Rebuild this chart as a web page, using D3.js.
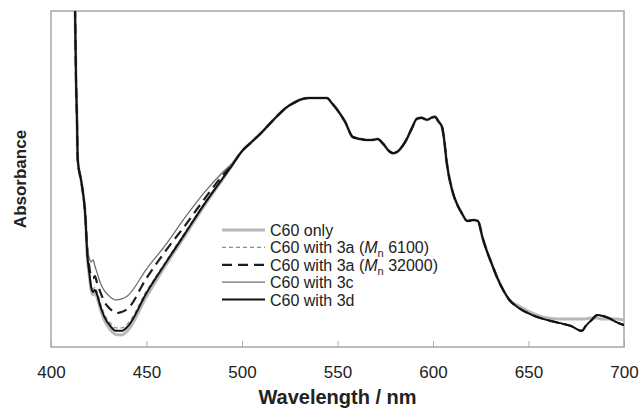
<!DOCTYPE html>
<html>
<head>
<meta charset="utf-8">
<script src="https://cdn.jsdelivr.net/npm/d3@7"></script>
<style>
  body { margin: 0; background: #fff; }
  svg text { font-family: Arial, "Liberation Sans", sans-serif; fill: #222; }
</style>
</head>
<body>
<svg id="chart"></svg>
<script>
// Chart size and plot margins
const width = 643;
const height = 410;
const margin = { top: 11, right: 19, bottom: 63, left: 51 };

// Steep rise below 418 nm, common to every spectrum
const leadWl = [412, 412.6, 413.1, 413.6, 414, 416, 418];
const leadAbs = [1.152, 1.000, 0.795, 0.676, 0.557, 0.488, 0.387];

// The 420-495 nm valley, where the spectra separate
const dipWl = [419, 420, 421, 422, 423, 424, 426, 428, 431, 434, 437, 440, 450, 460, 470, 480, 490, 495];
const dipC60 = [0.268, 0.215, 0.170, 0.155, 0.161, 0.150, 0.110, 0.079, 0.052, 0.037, 0.036, 0.048, 0.150, 0.243, 0.330, 0.418, 0.500, 0.542];
const dip3a6100 = [0.279, 0.230, 0.186, 0.172, 0.178, 0.167, 0.128, 0.098, 0.072, 0.057, 0.057, 0.069, 0.167, 0.254, 0.340, 0.426, 0.505, 0.543];
const dip3a32000 = [0.289, 0.241, 0.211, 0.205, 0.211, 0.193, 0.161, 0.134, 0.113, 0.101, 0.104, 0.113, 0.205, 0.286, 0.360, 0.438, 0.512, 0.545];
const dip3c = [0.304, 0.265, 0.253, 0.259, 0.241, 0.223, 0.188, 0.167, 0.149, 0.140, 0.143, 0.152, 0.232, 0.304, 0.384, 0.458, 0.521, 0.548];
const dip3d = [0.274, 0.223, 0.179, 0.164, 0.170, 0.158, 0.119, 0.089, 0.063, 0.048, 0.048, 0.060, 0.161, 0.250, 0.336, 0.423, 0.503, 0.542];

// Main absorption band 500-640 nm (spectra overlap here)
const bandWl = [500, 505, 510, 513, 518, 523.5, 527, 530, 535, 540, 544.5, 547, 550, 554, 558, 562, 565, 568, 571, 574, 577, 579, 581, 584, 586, 589, 591.5, 594, 597, 599, 601, 603, 604.7, 606, 607, 610, 613, 615, 618, 621, 623.5, 626, 628, 631, 633.5, 637, 640];
const bandAbs = [0.583, 0.610, 0.637, 0.655, 0.685, 0.714, 0.726, 0.735, 0.741, 0.741, 0.741, 0.726, 0.705, 0.670, 0.625, 0.619, 0.616, 0.616, 0.619, 0.604, 0.583, 0.577, 0.580, 0.598, 0.616, 0.652, 0.679, 0.682, 0.676, 0.682, 0.685, 0.670, 0.655, 0.610, 0.557, 0.467, 0.420, 0.399, 0.375, 0.378, 0.375, 0.324, 0.289, 0.244, 0.208, 0.167, 0.140];

// Long-wavelength tail
const tailWl = [645, 652, 660, 666.5, 672, 678, 680, 683, 686, 689, 692, 696, 700];
const tailMix = [0.116, 0.095, 0.080, 0.071, 0.063, 0.048, 0.063, 0.080, 0.095, 0.092, 0.086, 0.074, 0.065];
const tailC60 = [0.122, 0.101, 0.086, 0.083, 0.083, 0.083, 0.084, 0.086, 0.086, 0.083, 0.083, 0.083, 0.080];

// X tick labels
const xTicks = [400, 450, 500, 550, 600, 650, 700];

// Series names (legend order)
const seriesNames = ["C60 only", "C60 with 3a (Mn 6100)", "C60 with 3a (Mn 32000)", "C60 with 3c", "C60 with 3d"];
const seriesMn = [null, "6100", "32000", null, null];
const seriesColor = ["#b8b8b8", "#8c8c8c", "#1e1e1e", "#707070", "#111111"];
const seriesWidth = [3, 1.2, 2.2, 1.3, 2];
const seriesDash = [null, "4,3", "10,6", null, null];

function buildSeries(dip, tail) {
  const pts = [];
  leadWl.forEach((w, i) => pts.push({ wl: w, a: leadAbs[i] }));
  dipWl.forEach((w, i) => pts.push({ wl: w, a: dip[i] }));
  bandWl.forEach((w, i) => pts.push({ wl: w, a: bandAbs[i] }));
  tailWl.forEach((w, i) => pts.push({ wl: w, a: tail[i] }));
  return pts;
}

const seriesData = [
  buildSeries(dipC60, tailC60),
  buildSeries(dip3a6100, tailMix),
  buildSeries(dip3a32000, tailMix),
  buildSeries(dip3c, tailMix),
  buildSeries(dip3d, tailMix)
];

const plotW = width - margin.left - margin.right;
const plotH = height - margin.top - margin.bottom;

const svg = d3.select("#chart")
  .attr("width", width)
  .attr("height", height);

const g = svg.append("g")
  .attr("transform", `translate(${margin.left},${margin.top})`);

// Scales
const x = d3.scaleLinear().domain([400, 700]).range([0, plotW]);
const y = d3.scaleLinear().domain([0, 1]).range([plotH, 0]);

// Clip so the steep start is cut at the frame
g.append("clipPath").attr("id", "plot-clip")
  .append("rect").attr("width", plotW).attr("height", plotH);

// X axis, ticks pointing inward
const xAxis = d3.axisBottom(x).tickValues(xTicks).tickSize(-6).tickPadding(19);
const axisG = g.append("g")
  .attr("transform", `translate(0,${plotH})`)
  .call(xAxis);
axisG.select(".domain").remove();
axisG.selectAll(".tick line").attr("stroke", "#aaa");
axisG.selectAll(".tick text")
  .style("font-size", "17px")
  .attr("fill", "#222");

// Frame
g.append("rect")
  .attr("width", plotW)
  .attr("height", plotH)
  .attr("fill", "none")
  .attr("stroke", "#a6a6a6")
  .attr("stroke-width", 1.5);

// Curves
const line = d3.line()
  .x(d => x(d.wl))
  .y(d => y(d.a))
  .curve(d3.curveMonotoneX);

g.append("g").attr("clip-path", "url(#plot-clip)")
  .selectAll("path")
  .data(seriesData)
  .join("path")
  .attr("d", line)
  .attr("fill", "none")
  .attr("stroke", (d, i) => seriesColor[i])
  .attr("stroke-width", (d, i) => seriesWidth[i])
  .attr("stroke-dasharray", (d, i) => seriesDash[i])
  .attr("stroke-linejoin", "round");

// Legend
const legend = svg.append("g").attr("transform", "translate(222,230)");
const rowH = 17.4;
seriesNames.forEach((name, i) => {
  const row = legend.append("g").attr("transform", `translate(0,${i * rowH})`);
  row.append("line")
    .attr("x1", 0).attr("x2", 43)
    .attr("stroke", seriesColor[i])
    .attr("stroke-width", seriesWidth[i])
    .attr("stroke-dasharray", seriesDash[i]);
  const t = row.append("text")
    .attr("x", 48).attr("y", 6)
    .style("font-size", "16px");
  if (seriesMn[i]) {
    t.append("tspan").text("C60 with 3a (");
    t.append("tspan").style("font-style", "italic").text("M");
    t.append("tspan").attr("dy", 4).style("font-size", "11px").text("n");
    t.append("tspan").attr("dy", -4).text(" " + seriesMn[i] + ")");
  } else {
    t.text(name);
  }
});

// Axis titles
svg.append("text")
  .attr("x", margin.left + plotW / 2)
  .attr("y", 404)
  .attr("text-anchor", "middle")
  .style("font-size", "20px")
  .style("font-weight", "bold")
  .text("Wavelength / nm");

svg.append("text")
  .attr("transform", `translate(26,${margin.top + plotH / 2}) rotate(-90)`)
  .attr("text-anchor", "middle")
  .style("font-size", "17px")
  .style("font-weight", "bold")
  .text("Absorbance");
</script>
</body>
</html>
